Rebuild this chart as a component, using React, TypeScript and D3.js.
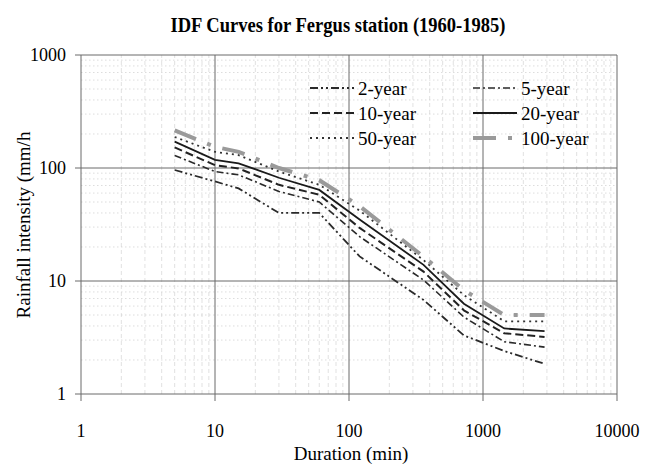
import React, { useEffect, useRef } from "react";
import * as d3 from "d3";

// durations (min) and intensities (mm/h)
const durations = [5, 10, 15, 30, 60, 120, 360, 720, 1440, 2880];
const year2 = [96, 76, 66, 40, 40, 16.5, 6.8, 3.3, 2.4, 1.85];
const year5 = [129, 93, 87, 62, 50, 24.7, 10.2, 4.8, 2.9, 2.6];
const year10 = [152, 106, 99, 71, 58, 29.5, 12.1, 5.5, 3.45, 3.2];
const year20 = [171, 118, 110, 82, 64, 35, 13.9, 6.3, 3.8, 3.6];
const year50 = [188, 139, 130, 93, 71, 42, 15.3, 7.5, 4.4, 4.4];
const year100 = [215, 154, 139, 100, 78, 46, 16.4, 8.3, 5, 5];

const seriesNames = ["2-year", "5-year", "10-year", "20-year", "50-year", "100-year"];
const xTicks = [1, 10, 100, 1000, 10000];
const yTicks = [1, 10, 100, 1000];

const styles = [
  { stroke: "#2a2a2a", width: 1.8, dash: "8 3 2 3 2 3" },
  { stroke: "#2a2a2a", width: 1.6, dash: "7 3 2 3" },
  { stroke: "#222", width: 2, dash: "8 4" },
  { stroke: "#1a1a1a", width: 1.8, dash: null },
  { stroke: "#333", width: 1.8, dash: "2 4" },
  { stroke: "#9a9a9a", width: 4, dash: "23 12 4 12" },
];

const App = () => {
  const svgRef = useRef(null);

  useEffect(() => {
    const svg = d3.select(svgRef.current);
    svg.selectAll("*").remove();
    const margin = { top: 55, right: 36, bottom: 73, left: 81 };
    const width = +svg.attr("width");
    const height = +svg.attr("height");

    const x = d3.scaleLog().domain([1, 10000]).range([margin.left, width - margin.right]);
    const y = d3.scaleLog().domain([1, 1000]).range([height - margin.bottom, margin.top]);
    const font = "'Liberation Serif', 'Times New Roman', serif";

    svg.append("rect").attr("width", width).attr("height", height).attr("fill", "#fff");

    // minor grid
    const minorX = [];
    for (let d = 1; d < 10000; d *= 10) for (let k = 2; k < 10; k++) minorX.push(d * k);
    const minorY = [];
    for (let d = 1; d < 1000; d *= 10) for (let k = 2; k < 10; k++) minorY.push(d * k);

    svg.append("g").selectAll("line").data(minorX).enter().append("line")
      .attr("x1", (d) => x(d)).attr("x2", (d) => x(d))
      .attr("y1", y(1)).attr("y2", y(1000))
      .attr("stroke", "#d4d4d4").attr("stroke-width", 0.7).attr("stroke-dasharray", "4 3");
    svg.append("g").selectAll("line").data(minorY).enter().append("line")
      .attr("x1", x(1)).attr("x2", x(10000))
      .attr("y1", (d) => y(d)).attr("y2", (d) => y(d))
      .attr("stroke", "#cfcfcf").attr("stroke-width", 0.7).attr("stroke-dasharray", "1.5 2.5");

    // major grid
    svg.append("g").selectAll("line").data(xTicks).enter().append("line")
      .attr("x1", (d) => x(d)).attr("x2", (d) => x(d))
      .attr("y1", y(1) + 7).attr("y2", y(1000))
      .attr("stroke", "#6a6a6a").attr("stroke-width", 1);
    svg.append("g").selectAll("line").data(yTicks).enter().append("line")
      .attr("x1", x(1) - 6).attr("x2", x(10000))
      .attr("y1", (d) => y(d)).attr("y2", (d) => y(d))
      .attr("stroke", "#6a6a6a").attr("stroke-width", 1);

    // tick labels
    svg.append("g").selectAll("text").data(xTicks).enter().append("text")
      .attr("x", (d) => x(d)).attr("y", y(1) + 43)
      .attr("text-anchor", "middle").attr("font-family", font).attr("font-size", 18)
      .text((d) => d);
    svg.append("g").selectAll("text").data(yTicks).enter().append("text")
      .attr("x", x(1) - 15).attr("y", (d) => y(d) + 6)
      .attr("text-anchor", "end").attr("font-family", font).attr("font-size", 18)
      .text((d) => d);

    // curves
    const allSeries = [year2, year5, year10, year20, year50, year100];
    const line = d3.line().x((d) => x(d[0])).y((d) => y(d[1]));
    allSeries.forEach((vals, i) => {
      const st = styles[i];
      svg.append("path")
        .datum(durations.map((t, j) => [t, vals[j]]))
        .attr("d", line)
        .attr("fill", "none")
        .attr("stroke", st.stroke)
        .attr("stroke-width", st.width)
        .attr("stroke-dasharray", st.dash);
    });

    // legend
    const legendCols = [310, 473];
    const legendRows = [88, 113, 138];
    seriesNames.forEach((name, i) => {
      const st = styles[i];
      const lx = legendCols[i % 2];
      const ly = legendRows[Math.floor(i / 2)];
      svg.append("line")
        .attr("x1", lx).attr("x2", lx + 44).attr("y1", ly).attr("y2", ly)
        .attr("stroke", st.stroke).attr("stroke-width", st.width)
        .attr("stroke-dasharray", st.dash);
      svg.append("text")
        .attr("x", lx + 48).attr("y", ly + 7)
        .attr("font-family", font).attr("font-size", 19)
        .text(name);
    });

    // titles
    svg.append("text")
      .attr("x", 338).attr("y", 32)
      .attr("text-anchor", "middle").attr("font-family", font)
      .attr("font-size", 21).attr("font-weight", "bold")
      .attr("textLength", 335).attr("lengthAdjust", "spacingAndGlyphs")
      .text("IDF Curves for Fergus station (1960-1985)");
    svg.append("text")
      .attr("x", 351).attr("y", 460)
      .attr("text-anchor", "middle").attr("font-family", font).attr("font-size", 19)
      .text("Duration (min)");
    svg.append("text")
      .attr("transform", `translate(30,225) rotate(-90)`)
      .attr("text-anchor", "middle").attr("font-family", font).attr("font-size", 19)
      .text("Rainfall intensity (mm/h");
  }, []);

  return (
    <svg ref={svgRef} width={653} height={467}
      style={{ position: "absolute", left: 0, top: 0 }}></svg>
  );
};

export default App;
